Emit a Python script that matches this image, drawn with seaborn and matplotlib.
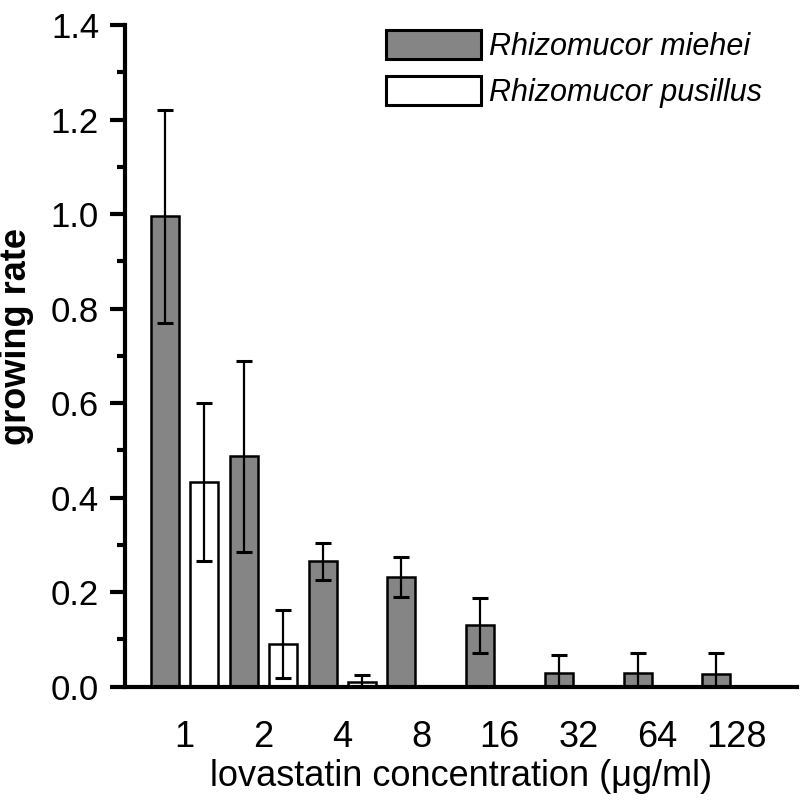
import numpy as np
import pandas as pd
import matplotlib
matplotlib.use('Agg')
import matplotlib.pyplot as plt
import seaborn as sns
from matplotlib.patches import Patch
from matplotlib.ticker import MultipleLocator

concentrations = ["1", "2", "4", "8", "16", "32", "64", "128"]
species = ["Rhizomucor miehei", "Rhizomucor pusillus"]
miehei_rate = [0.995, 0.488, 0.265, 0.232, 0.130, 0.030, 0.030, 0.027]
miehei_err = [0.225, 0.202, 0.040, 0.042, 0.058, 0.038, 0.042, 0.045]
pusillus_rate = [0.434, 0.091, 0.010, 0.0, 0.0, 0.0, 0.0, 0.0]
pusillus_err = [0.167, 0.072, 0.015, 0.0, 0.0, 0.0, 0.0, 0.0]

colors = {"Rhizomucor miehei": "#858585", "Rhizomucor pusillus": "#ffffff"}

df = pd.DataFrame({
    "conc": concentrations * 2,
    "species": [species[0]] * 8 + [species[1]] * 8,
    "rate": miehei_rate + pusillus_rate,
    "err": miehei_err + pusillus_err,
})

sns.set_style("ticks")
plt.rcParams['font.family'] = ['Liberation Sans', 'DejaVu Sans']
for k in ["text.color", "axes.labelcolor", "xtick.color", "ytick.color", "axes.edgecolor"]:
    plt.rcParams[k] = "black"

fig = plt.figure(figsize=(8.0, 8.07), dpi=100)
ax = fig.add_axes([0.156, 0.149, 0.84, 0.82])

sns.barplot(data=df, x="conc", y="rate", hue="species", order=concentrations,
            hue_order=species, palette=colors, width=1.0, gap=0.29,
            edgecolor="black", linewidth=1.8, errorbar=None, legend=False, ax=ax)

# error bars on each bar, from the bar positions seaborn drew
errs = {species[0]: miehei_err, species[1]: pusillus_err}
for cont, sp in zip(ax.containers, species):
    for patch, e in zip(cont.patches, errs[sp]):
        if e <= 0:
            continue
        xc = patch.get_x() + patch.get_width() / 2
        ax.errorbar(xc, patch.get_height(), yerr=e, fmt="none", ecolor="black",
                    elinewidth=1.6, capsize=6, capthick=2.2, zorder=5)

ax.set_ylim(0, 1.4)
ax.set_xlim(-0.76, 7.77)
ax.yaxis.set_major_locator(MultipleLocator(0.2))
ax.yaxis.set_minor_locator(MultipleLocator(0.1))
ax.yaxis.set_major_formatter(plt.FuncFormatter(lambda v, p: f"{v:.1f}"))

sns.despine(ax=ax)
for s in ["left", "bottom"]:
    ax.spines[s].set_linewidth(3)
ax.tick_params(axis="y", which="major", length=10.5, width=3, direction="out",
               labelsize=25, pad=8)
ax.tick_params(axis="y", which="minor", length=6, width=3, direction="out")
ax.tick_params(axis="x", length=0, labelsize=26, pad=24)

ax.set_xlabel("lovastatin concentration (\u03bcg/ml)", fontsize=26, labelpad=3)
ax.set_ylabel("growing rate", fontsize=26, fontweight="bold")
ax.yaxis.set_label_coords(-0.135, 0.53)

handles = [Patch(facecolor=colors[s], edgecolor="black", linewidth=2.2) for s in species]
ax.legend(handles, species, loc="upper right", bbox_to_anchor=(0.975, 1.02),
          frameon=False, prop={"style": "italic", "size": 22}, borderpad=0.1,
          handlelength=3.1, handleheight=1.1, handletextpad=0.25, labelspacing=0.45)

fig.savefig("out.png", dpi=100)
